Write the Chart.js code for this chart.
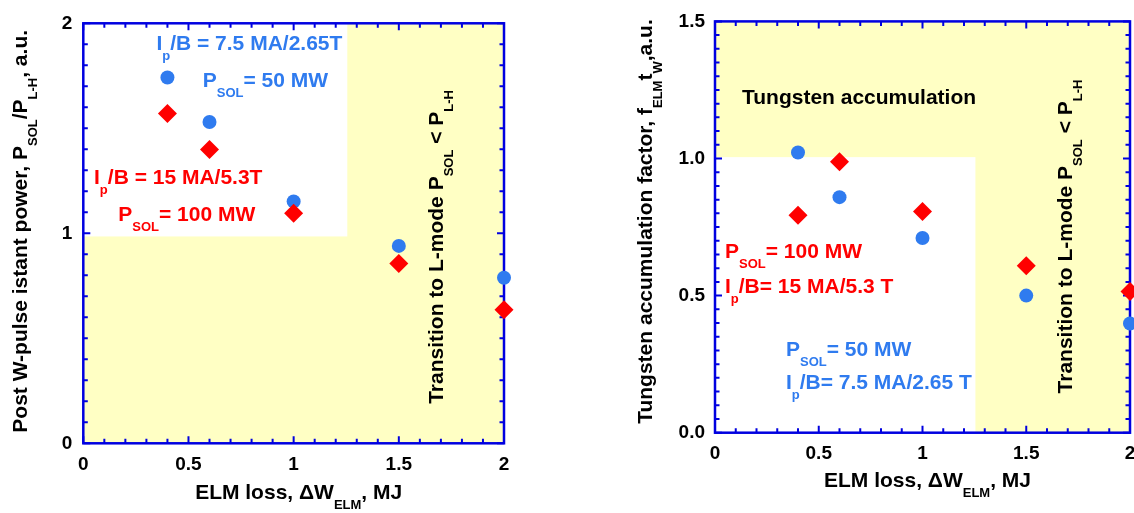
<!DOCTYPE html>
<html><head><meta charset="utf-8">
<script src="https://cdn.jsdelivr.net/npm/chart.js@4.4.0/dist/chart.umd.min.js"></script>
<style>
html,body{margin:0;padding:0;background:#fff;}
#wrap{position:relative;width:1134px;height:513px;overflow:hidden;background:#fff;}
canvas{position:absolute;top:0;}
</style></head><body>
<div id="wrap">
<canvas id="c1" width="567" height="513" style="left:0;width:567px;height:513px"></canvas>
<canvas id="c2" width="640" height="513" style="left:567px;width:640px;height:513px"></canvas>
</div>
<script>
// ---- data ----
const elmLoss = [0.4, 0.6, 1.0, 1.5, 2.0];
// left panel: post W-pulse instant power P_SOL/P_L-H
const powerLow  = [1.742, 1.530, 1.152, 0.940, 0.788];   // P_SOL = 50 MW, 7.5 MA/2.65 T
const powerHigh = [1.571, 1.399, 1.095, 0.856, 0.636];   // P_SOL = 100 MW, 15 MA/5.3 T
// right panel: tungsten accumulation factor
const accumLow  = [1.022, 0.859, 0.710, 0.500, 0.398];
const accumHigh = [0.793, 0.988, 0.807, 0.609, 0.515];
// ticks
const xTickValues = [0, 0.5, 1, 1.5, 2];
const xTickLabels = ['0', '0.5', '1', '1.5', '2'];
const leftYTickValues = [0, 1, 2];
const leftYTickLabels = ['0', '1', '2'];
const rightYTickValues = [0, 0.5, 1.0, 1.5];
const rightYTickLabels = ['0.0', '0.5', '1.0', '1.5'];

// ---- style ----
const FONT = '"Liberation Sans", Arial, Helvetica, sans-serif';
const BLUE = '#2f7bef';
const RED = '#ff0000';
const AXIS = '#0000e0';
const YELLOW = '#ffffc4';

function richWidth(ctx, parts, size, sub) {
  let w = 0;
  for (const p of parts) { ctx.font = `bold ${p.s ? sub : size}px ${FONT}`; w += ctx.measureText(p.t).width; }
  return w;
}
function drawRich(ctx, parts, x, y, o) {
  const size = o.size || 21, sub = o.sub || 13, off = o.off || 10;
  let cx = x;
  if (o.align === 'center') cx = x - richWidth(ctx, parts, size, sub) / 2;
  ctx.fillStyle = o.color || '#000';
  ctx.textBaseline = 'alphabetic'; ctx.textAlign = 'left';
  for (const p of parts) {
    ctx.font = `bold ${p.s ? sub : size}px ${FONT}`;
    ctx.fillText(p.t, cx, y + (p.s ? off : 0));
    cx += ctx.measureText(p.t).width;
  }
}
function drawRichRot(ctx, parts, x, y, o) {
  ctx.save(); ctx.translate(x, y); ctx.rotate(-Math.PI / 2);
  drawRich(ctx, parts, 0, 0, Object.assign({}, o, {align: 'center'}));
  ctx.restore();
}

const framePlugin = {
  id: 'frame',
  beforeDatasetsDraw(chart) {
    const c = chart.config.options.plugins.frame;
    const {ctx, chartArea: a, scales: {x, y}} = chart;
    ctx.save();
    // background regions
    ctx.fillStyle = YELLOW;
    ctx.fillRect(a.left, a.top, a.right - a.left, a.bottom - a.top);
    ctx.fillStyle = '#fff';
    const wx0 = x.getPixelForValue(c.white[0]), wx1 = x.getPixelForValue(c.white[1]);
    const wy0 = y.getPixelForValue(c.white[2]), wy1 = y.getPixelForValue(c.white[3]);
    ctx.fillRect(Math.min(wx0, wx1), Math.min(wy0, wy1), Math.abs(wx1 - wx0), Math.abs(wy1 - wy0));
    // annotations
    for (const t of c.texts) {
      const px = x.getPixelForValue(t.x), py = y.getPixelForValue(t.y);
      if (t.rot) drawRichRot(ctx, t.parts, px, py, t);
      else drawRich(ctx, t.parts, px, py, t);
    }
    // ticks
    ctx.strokeStyle = AXIS; ctx.lineWidth = 2;
    ctx.beginPath();
    const nx = Math.round((x.max - x.min) / c.xMinor);
    for (let i = 0; i <= nx; i++) {
      const v = x.min + i * c.xMinor;
      const major = Math.abs(v / c.xMajor - Math.round(v / c.xMajor)) < 1e-6;
      const L = major ? 7 : 4.5;
      const px = x.getPixelForValue(v);
      ctx.moveTo(px, a.bottom); ctx.lineTo(px, a.bottom - L);
      ctx.moveTo(px, a.top); ctx.lineTo(px, a.top + L);
    }
    const ny = Math.round((y.max - y.min) / c.yMinor);
    for (let i = 0; i <= ny; i++) {
      const v = y.min + i * c.yMinor;
      const major = Math.abs(v / c.yMajor - Math.round(v / c.yMajor)) < 1e-6;
      const L = major ? 7 : 4.5;
      const py = y.getPixelForValue(v);
      ctx.moveTo(a.left, py); ctx.lineTo(a.left + L, py);
      ctx.moveTo(a.right, py); ctx.lineTo(a.right - L, py);
    }
    ctx.stroke();
    ctx.lineWidth = 2.5;
    ctx.strokeRect(a.left, a.top, a.right - a.left, a.bottom - a.top);
    ctx.restore();
  },
  afterDraw(chart) {
    const c = chart.config.options.plugins.frame;
    const {ctx, chartArea: a} = chart;
    ctx.save();
    const cx = (a.left + a.right) / 2, cy = (a.top + a.bottom) / 2;
    drawRich(ctx, c.xTitle, cx + c.xTitleDx, a.bottom + c.xTitleDy, {align: 'center', color: '#000', size: 21, sub: 13, off: 10});
    drawRichRot(ctx, c.yTitle, a.left - c.yTitleDx, cy + c.yTitleDy, {color: '#000', size: 21, sub: 13, off: 10});
    ctx.restore();
  }
};

const xTitle = [{t: 'ELM loss, \u0394W'}, {t: 'ELM', s: 1}, {t: ', MJ'}];
const transition = [{t: 'Transition to L-mode P'}, {t: 'SOL', s: 1}, {t: ' < P'}, {t: 'L-H', s: 1}];

function makeChart(id, cfg) {
  const tickFont = {family: FONT, size: 19, weight: 'bold'};
  return new Chart(document.getElementById(id), {
    type: 'scatter',
    data: {datasets: [
      {label: 'P_SOL = 100 MW', data: elmLoss.map((v, i) => ({x: v, y: cfg.high[i]})),
       pointStyle: 'rectRot', pointRadius: 9.5, pointHoverRadius: 9.5, backgroundColor: RED, borderColor: RED, borderWidth: 0, clip: false},
      {label: 'P_SOL = 50 MW', data: elmLoss.map((v, i) => ({x: v, y: cfg.low[i]})),
       pointStyle: 'circle', pointRadius: 7, pointHoverRadius: 7, backgroundColor: BLUE, borderColor: BLUE, borderWidth: 0, clip: false}
    ]},
    options: {
      responsive: false, animation: false, events: [],
      layout: {autoPadding: false, padding: {left: 0, top: cfg.top, right: cfg.right, bottom: 0}},
      plugins: {legend: {display: false}, tooltip: {enabled: false}, frame: cfg.frame},
      scales: {
        x: {type: 'linear', min: 0, max: 2,
            afterFit(s) { s.height = cfg.xh; },
            afterBuildTicks(s) { s.ticks = xTickValues.map(v => ({value: v})); },
            grid: {display: false, drawTicks: false}, border: {display: false},
            ticks: {callback: (v, i) => xTickLabels[i], font: tickFont, color: '#000', padding: 10, maxRotation: 0, autoSkip: false}},
        y: {type: 'linear', min: cfg.yMin, max: cfg.yMax,
            afterFit(s) { s.width = cfg.yw; },
            afterBuildTicks(s) { s.ticks = cfg.yTicks.map(v => ({value: v})); },
            grid: {display: false, drawTicks: false}, border: {display: false},
            ticks: {callback: (v, i) => cfg.yLabels[i], font: tickFont, color: '#000', padding: cfg.yPad, autoSkip: false}}
      }
    },
    plugins: [framePlugin]
  });
}

makeChart('c1', {
  low: powerLow, high: powerHigh, yMin: 0, yMax: 2,
  yTicks: leftYTickValues, yLabels: leftYTickLabels, yPad: 11,
  top: 23.3, right: 63, xh: 69.7, yw: 83.3,
  frame: {
    white: [0, 1.255, 0.985, 2], xMinor: 0.1, xMajor: 0.5, yMinor: 0.1, yMajor: 1,
    xTitle: xTitle, xTitleDx: 5, xTitleDy: 56,
    yTitle: [{t: 'Post W-pulse istant power, P'}, {t: 'SOL', s: 1}, {t: '/P'}, {t: 'L-H', s: 1}, {t: ', a.u.'}],
    yTitleDx: 56, yTitleDy: -2,
    texts: [
      {x: 0.3475, y: 1.874, color: BLUE, parts: [{t: 'I'}, {t: 'p', s: 1}, {t: '/B = 7.5 MA/2.65T'}]},
      {x: 0.568, y: 1.697, color: BLUE, parts: [{t: 'P'}, {t: 'SOL', s: 1}, {t: '= 50 MW'}]},
      {x: 0.051, y: 1.235, color: RED, parts: [{t: 'I'}, {t: 'p', s: 1}, {t: '/B = 15 MA/5.3T'}]},
      {x: 0.166, y: 1.060, color: RED, parts: [{t: 'P'}, {t: 'SOL', s: 1}, {t: '= 100 MW'}]},
      {x: 1.709, y: 0.935, color: '#000', rot: true, parts: transition}
    ]
  }
});

makeChart('c2', {
  low: accumLow, high: accumHigh, yMin: 0, yMax: 1.5,
  yTicks: rightYTickValues, yLabels: rightYTickLabels, yPad: 10,
  top: 18.3, right: 77, xh: 80.3, yw: 148,
  frame: {
    white: [0, 1.255, 0, 1.005], xMinor: 0.1, xMajor: 0.5, yMinor: 0.05, yMajor: 0.5,
    xTitle: xTitle, xTitleDx: 5, xTitleDy: 54.5,
    yTitle: [{t: 'Tungsten accumulation factor, f'}, {t: 'ELM', s: 1}, {t: 't'}, {t: 'W', s: 1}, {t: ',a.u.'}],
    yTitleDx: 63, yTitleDy: -5.5,
    texts: [
      {x: 0.130, y: 1.197, color: '#000', parts: [{t: 'Tungsten accumulation'}]},
      {x: 0.048, y: 0.637, color: RED, parts: [{t: 'P'}, {t: 'SOL', s: 1}, {t: '= 100 MW'}]},
      {x: 0.048, y: 0.508, color: RED, parts: [{t: 'I'}, {t: 'p', s: 1}, {t: '/B= 15 MA/5.3 T'}]},
      {x: 0.342, y: 0.281, color: BLUE, parts: [{t: 'P'}, {t: 'SOL', s: 1}, {t: '= 50 MW'}]},
      {x: 0.342, y: 0.161, color: BLUE, parts: [{t: 'I'}, {t: 'p', s: 1}, {t: '/B= 7.5 MA/2.65 T'}]},
      {x: 1.719, y: 0.7155, color: '#000', rot: true, parts: transition}
    ]
  }
});
</script>
</body></html>
